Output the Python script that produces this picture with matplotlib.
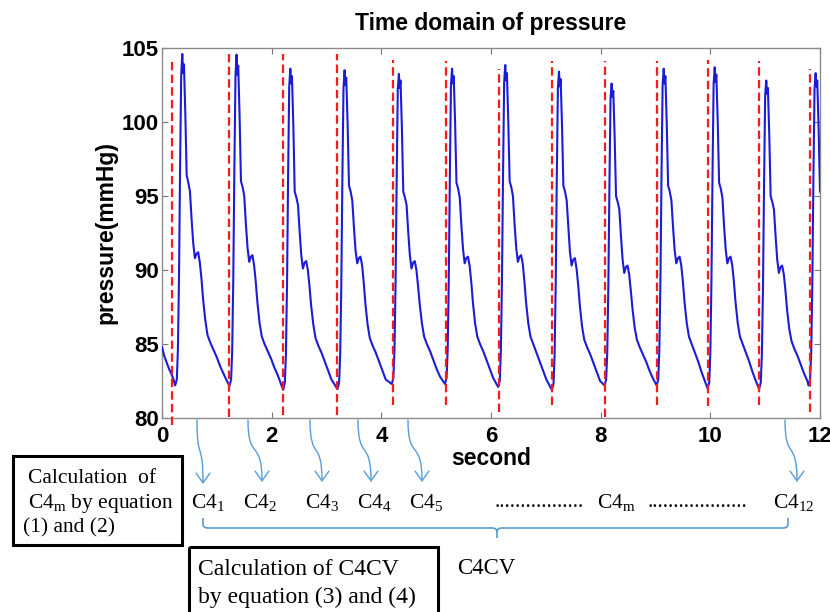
import matplotlib.pyplot as plt
from matplotlib.path import Path
from matplotlib.patches import FancyArrowPatch, PathPatch, Rectangle

plt.rcParams['font.family'] = ['Liberation Sans', 'DejaVu Sans']
plt.rcParams['mathtext.fontset'] = 'custom'
plt.rcParams['mathtext.rm'] = 'Liberation Serif'
plt.rcParams['mathtext.default'] = 'regular'

# trace before the first beat
lead_t = [0.00, 0.04, 0.09, 0.13, 0.17, 0.21]
lead_p = [84.8, 84.2, 83.7, 83.3, 83.0, 82.6]

# each beat is read at the same offsets (s) after its foot
sample_dt = [0, 0.03, 0.05, 0.07, 0.09, 0.11, 0.13, 0.145, 0.16, 0.185, 0.21, 0.24, 0.27, 0.30,
             0.33, 0.36, 0.39, 0.42, 0.45, 0.48, 0.51, 0.55, 0.59, 0.64, 0.70, 0.76, 0.82, 0.88]
beat_start = [0.24, 1.23, 2.21, 3.20, 4.19, 5.16, 6.13, 7.11, 8.07, 9.02, 9.95, 10.89, 11.79]
beat_p = [
    [82.2, 82.6, 84.6, 89.5, 97.0, 103.2, 104.6, 103.3, 103.9, 100.6, 96.4, 95.9, 95.3, 93.4, 91.8, 90.8, 91.1, 91.2, 90.5, 89.4, 88.0, 86.6, 85.6, 85.1, 84.6, 84.1, 83.5, 83.0],
    [82.15, 82.6, 84.5, 89.4, 96.9, 103.1, 104.55, 103.2, 103.8, 100.4, 96.0, 95.6, 95.0, 93.1, 91.5, 90.55, 90.9, 91.0, 90.3, 89.2, 87.8, 86.4, 85.5, 85.0, 84.5, 84.0, 83.4, 82.9],
    [81.9, 82.4, 84.3, 89.0, 96.4, 102.4, 103.6, 102.6, 103.1, 99.8, 95.3, 94.9, 94.4, 92.6, 91.0, 90.1, 90.5, 90.6, 90.0, 88.9, 87.6, 86.3, 85.4, 84.9, 84.4, 83.8, 83.2, 82.6],
    [81.95, 82.4, 84.3, 89.0, 96.3, 102.3, 103.5, 102.5, 103.0, 99.9, 95.7, 95.3, 94.7, 92.9, 91.3, 90.45, 90.8, 90.9, 90.3, 89.1, 87.7, 86.3, 85.4, 84.9, 84.4, 83.8, 83.2, 82.6],
    [82.3, 82.7, 84.6, 89.2, 96.2, 102.2, 103.25, 102.3, 102.8, 99.6, 95.3, 94.9, 94.4, 92.6, 91.0, 90.1, 90.5, 90.6, 90.0, 88.9, 87.7, 86.4, 85.5, 85.0, 84.5, 83.9, 83.3, 82.8],
    [82.3, 82.7, 84.6, 89.3, 96.5, 102.5, 103.6, 102.6, 103.1, 100.0, 95.9, 95.5, 94.9, 93.0, 91.4, 90.45, 90.8, 90.9, 90.3, 89.2, 87.8, 86.4, 85.5, 85.0, 84.5, 83.9, 83.3, 82.7],
    [82.1, 82.5, 84.5, 89.3, 96.6, 102.7, 103.85, 102.8, 103.3, 100.1, 96.0, 95.6, 95.0, 93.1, 91.5, 90.55, 90.9, 91.0, 90.4, 89.2, 87.8, 86.4, 85.5, 85.0, 84.4, 83.8, 83.2, 82.6],
    [81.9, 82.3, 84.3, 89.0, 96.3, 102.3, 103.4, 102.4, 102.9, 99.8, 95.7, 95.3, 94.7, 92.9, 91.2, 90.3, 90.7, 90.8, 90.1, 89.0, 87.6, 86.2, 85.3, 84.8, 84.3, 83.7, 83.1, 82.5],
    [82.2, 82.6, 84.4, 88.9, 95.8, 101.6, 102.6, 101.7, 102.1, 99.0, 95.0, 94.6, 94.1, 92.3, 90.7, 89.8, 90.2, 90.3, 89.7, 88.6, 87.4, 86.1, 85.3, 84.8, 84.3, 83.8, 83.2, 82.7],
    [82.2, 82.6, 84.6, 89.3, 96.5, 102.5, 103.6, 102.6, 103.1, 99.9, 95.7, 95.3, 94.7, 92.9, 91.3, 90.45, 90.8, 90.9, 90.3, 89.2, 87.8, 86.4, 85.5, 85.0, 84.4, 83.8, 83.1, 82.5],
    [82.0, 82.4, 84.4, 89.2, 96.5, 102.6, 103.7, 102.7, 103.2, 100.0, 95.9, 95.5, 94.9, 93.0, 91.4, 90.45, 90.8, 90.9, 90.3, 89.2, 87.8, 86.4, 85.5, 85.0, 84.4, 83.8, 83.1, 82.5],
    [81.95, 82.4, 84.3, 88.8, 95.8, 101.8, 102.8, 101.9, 102.3, 99.1, 95.0, 94.6, 94.1, 92.3, 90.7, 89.8, 90.2, 90.3, 89.7, 88.6, 87.3, 86.0, 85.2, 84.7, 84.2, 83.6, 83.0, 82.5],
    [82.2, 82.6, 84.5, 89.1, 96.2, 102.2, 103.3, 102.4, 102.8, 99.5, 95.3],
]

# red dashed beat markers
mark_t = [0.19, 1.22, 2.21, 3.20, 4.21, 5.18, 6.15, 7.11, 8.08, 9.03, 9.96, 10.89, 11.82]
mark_top = [104.1, 104.6, 104.6, 104.6, 104.2, 104.1, 103.6, 104.1, 104.1, 104.1, 104.2, 104.1, 103.6]
mark_bot = [79.5, 80.05, 80.2, 80.2, 80.9, 80.9, 80.4, 80.9, 80.1, 80.9, 80.8, 80.9, 80.4]

t = list(lead_t)
p = list(lead_p)
for t0, pp in zip(beat_start, beat_p):
    t += [t0 + d for d in sample_dt[:len(pp)]]
    p += pp

fig = plt.figure(figsize=(8.3, 6.12), dpi=100)
ax = fig.add_axes([162 / 830, 1 - 418 / 612, 658 / 830, 370 / 612])

ax.plot(t, p, color='#1c1cd8', lw=1.5, zorder=3)
for x, b, top in zip(mark_t, mark_bot, mark_top):
    ax.plot([x, x], [b, top], color='#ff1a1a', lw=1.6, ls=(0, (3.8, 1.9)), zorder=4, clip_on=False)

ax.set_xlim(0, 12)
ax.set_ylim(80, 105)
ax.set_xticks(range(0, 13, 2))
ax.set_yticks(range(80, 106, 5))
ax.tick_params(direction='in', length=4.5, color='#777777', top=True, right=True,
               labelsize=16, pad=6)
ax.tick_params(axis='y', pad=2)
for lab in ax.get_xticklabels() + ax.get_yticklabels():
    lab.set_fontweight('bold')
for s in ax.spines.values():
    s.set_color('#8a8a8a')
    s.set_linewidth(1)
ax.set_title('Time domain of pressure', fontsize=16.5, fontweight='bold', pad=13)
ax.set_xlabel('second', fontsize=16.5, fontweight='bold', labelpad=0)
ax.set_ylabel('pressure(mmHg)', fontsize=16.5, fontweight='bold', labelpad=3)

# annotation layer in pixel coordinates
ov = fig.add_axes([0, 0, 1, 1], zorder=5)
ov.set_xlim(0, 830)
ov.set_ylim(612, 0)
ov.axis('off')

serif = ['Liberation Serif', 'DejaVu Serif']
blue = '#5b9bd5'

ov.add_patch(Rectangle((13, 456), 169, 89, fill=False, lw=2.2, ec='black'))
ov.text(28, 483, 'Calculation  of', family=serif, fontsize=15.5, va='baseline')
ov.text(28, 508, 'C4$_m$ by equation', family=serif, fontsize=15.5, va='baseline')
ov.text(23, 532, '(1) and (2)', family=serif, fontsize=15.5, va='baseline')

ov.add_patch(Rectangle((189, 547), 249, 80, fill=False, lw=2.2, ec='black'))
ov.text(198, 575, 'Calculation of C4CV', family=serif, fontsize=17, va='baseline')
ov.text(198, 603, 'by equation (3) and (4)', family=serif, fontsize=17, va='baseline')
ov.text(457, 574, 'C4CV', family=serif, fontsize=16.5, va='baseline')

c4_x = [190.7, 243, 305, 357, 409, 596.7, 773]
c4_lab = ['C4$_1$', 'C4$_2$', 'C4$_3$', 'C4$_4$', 'C4$_5$', 'C4$_m$', 'C4$_{12}$']
for x, s in zip(c4_x, c4_lab):
    ov.text(x, 508, s, family=serif, fontsize=15.5, va='baseline')
ov.text(495, 507, '.' * 17, family=serif, fontsize=15.5, va='baseline')
ov.text(648, 507, '.' * 19, family=serif, fontsize=15.5, va='baseline')

arrows = [((197, 420), (203, 484)), ((248, 420), (262, 482)), ((310, 420), (322, 482)),
          ((358, 420), (371, 482)), ((408, 420), (422, 482)), ((785, 420), (797, 482))]
for (x0, y0), (x1, y1) in arrows:
    path = Path([(x0, y0), (x0, y0 + 42), (x1, y1 - 44), (x1, y1)],
                [Path.MOVETO, Path.CURVE4, Path.CURVE4, Path.CURVE4])
    ov.add_patch(FancyArrowPatch(path=path, arrowstyle='->,head_length=0.35,head_width=0.25',
                                 mutation_scale=20, color=blue, lw=1))

brace = Path([(203, 518), (203, 524), (203, 528), (208, 528), (492, 528), (497, 528), (497, 532), (497, 538),
              (497, 532), (497, 528), (502, 528), (783, 528), (788, 528), (788, 524), (788, 518)],
             [Path.MOVETO, Path.LINETO, Path.CURVE3, Path.CURVE3, Path.LINETO, Path.CURVE3, Path.CURVE3,
              Path.LINETO, Path.MOVETO, Path.CURVE3, Path.CURVE3, Path.LINETO, Path.CURVE3, Path.CURVE3,
              Path.LINETO])
ov.add_patch(PathPatch(brace, fill=False, ec=blue, lw=1.2))

fig.savefig('out.png', dpi=100)
